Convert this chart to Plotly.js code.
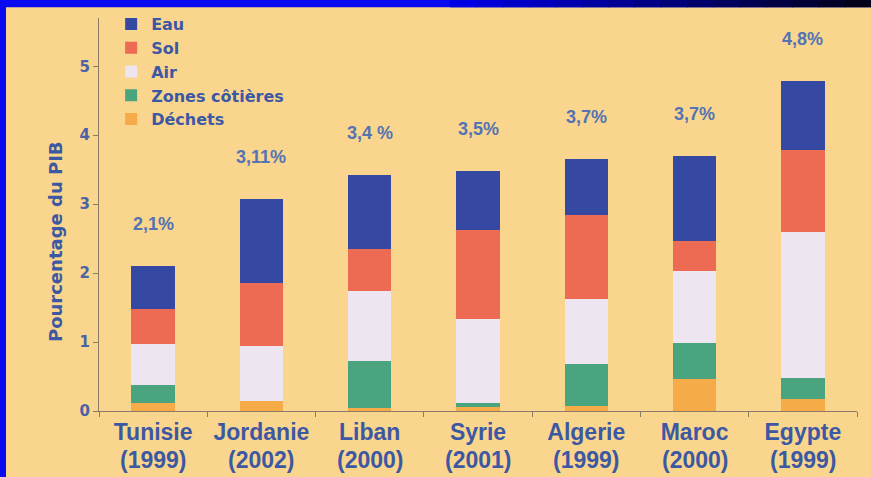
<!DOCTYPE html>
<html>
<head>
<meta charset="utf-8">
<script src="https://cdn.plot.ly/plotly-3.0.1.min.js"></script>
<style>
html,body{margin:0;padding:0;background:#0a0af0;}
#chart{width:871px;height:477px;}
</style>
</head>
<body>
<div id="chart"></div>
<script>
// ---- data ----
const countries = ["Tunisie","Jordanie","Liban","Syrie","Algerie","Maroc","Egypte"];
const years = ["(1999)","(2002)","(2000)","(2001)","(1999)","(2000)","(1999)"];
const dechets = [0.12, 0.15, 0.04, 0.06, 0.07, 0.46, 0.17];
const zonesCotieres = [0.26, 0.00, 0.68, 0.05, 0.61, 0.53, 0.31];
const air = [0.59, 0.79, 1.02, 1.23, 0.95, 1.04, 2.11];
const sol = [0.51, 0.92, 0.61, 1.28, 1.22, 0.43, 1.19];
const eau = [0.62, 1.21, 1.07, 0.86, 0.81, 1.24, 1.01];
const pctLabels = ["2,1%","3,11%","3,4 %","3,5%","3,7%","3,7%","4,8%"];
const yTicks = [0,1,2,3,4,5];

// ---- styles ----
const textBlue = "#3d58a3";
const lightBlue = "#5573b3";
const axisCol = "#8a7b66";
const series = [
  {name:"Déchets", y:dechets, color:"#f5ac48"},
  {name:"Zones côtières", y:zonesCotieres, color:"#4aa47f"},
  {name:"Air", y:air, color:"#ede6f1"},
  {name:"Sol", y:sol, color:"#ec6b52"},
  {name:"Eau", y:eau, color:"#3649a2"}
];

const traces = series.map(s => ({
  type:"bar", x:countries, y:s.y, name:s.name,
  marker:{color:s.color, line:{width:0}},
  width:0.4, hoverinfo:"skip"
}));

const totals = countries.map((c,i) => series.reduce((a,s)=>a+s.y[i],0));

const annotations = [];
countries.forEach((c,i) => {
  annotations.push({
    x:c, y:totals[i], xref:"x", yref:"y", text:pctLabels[i], showarrow:false,
    yanchor:"bottom", yshift:30,
    font:{family:"Liberation Sans, Arial, sans-serif", size:18, color:lightBlue, weight:"bold"}
  });
  annotations.push({
    x:c, y:0, xref:"x", yref:"paper", text:years[i], showarrow:false,
    yanchor:"middle", yshift:-49,
    font:{family:"Liberation Sans, Arial, sans-serif", size:23, color:textBlue, weight:"bold"}
  });
});
annotations.push({
  x:-0.058, xref:"paper", y:0.43, yref:"paper", text:"Pourcentage du PIB",
  showarrow:false, textangle:-90, xanchor:"center", yanchor:"middle",
  font:{family:"DejaVu Sans, sans-serif", size:18, color:textBlue, weight:"bold"}
});

// background panel + darkening top border (decoration)
const L = 99, W = 758, B = 410.7, H = 393;
const px = v => (v - L) / W;
const py = v => (B - v) / H;
const shapes = [{
  type:"rect", xref:"paper", yref:"paper", layer:"below",
  x0:px(6), x1:px(880), y0:-0.2, y1:py(7),
  fillcolor:"#f9d58d", line:{width:0}
}];
const steps = 16, gx0 = 450, gx1 = 871;
for (let i = 0; i < steps; i++) {
  const t = (i + 0.5) / steps;
  const b = Math.round(235 - t * 215);
  shapes.push({
    type:"rect", xref:"paper", yref:"paper", layer:"below",
    x0:px(gx0 + i * (gx1 - gx0) / steps), x1:px(gx0 + (i + 1) * (gx1 - gx0) / steps + 1),
    y0:py(7), y1:py(-2),
    fillcolor:`rgb(0,0,${b})`, line:{width:0}
  });
}

const layout = {
  width:871, height:477,
  margin:{l:99, r:14, t:18, b:66, pad:0, autoexpand:false},
  paper_bgcolor:"#0a0af0",
  plot_bgcolor:"rgba(0,0,0,0)",
  barmode:"stack",
  bargap:0.6,
  showlegend:true,
  legend:{
    x:0.016, y:1 - 7/477, xanchor:"left", yanchor:"top",
    xref:"paper", yref:"container",
    traceorder:"reversed", bgcolor:"rgba(0,0,0,0)",
    font:{family:"DejaVu Sans, sans-serif", size:16, color:textBlue, weight:"bold"},
    itemwidth:30, tracegroupgap:0
  },
  xaxis:{
    type:"category", range:[-0.5, 6.5], fixedrange:true,
    showline:true, linecolor:axisCol, linewidth:1,
    ticks:"outside", tickson:"boundaries", ticklen:5, tickcolor:axisCol,
    showgrid:false, zeroline:false,
    tickfont:{family:"Liberation Sans, Arial, sans-serif", size:23, color:textBlue, weight:"bold"}
  },
  yaxis:{
    range:[0, 5.7], fixedrange:true,
    tickvals:yTicks, ticktext:yTicks.map(String),
    showline:true, linecolor:axisCol, linewidth:1,
    ticks:"outside", ticklen:5, tickcolor:axisCol,
    showgrid:false, zeroline:false,
    tickfont:{family:"DejaVu Sans, sans-serif", size:15, color:"#4b63a6", weight:"bold"}
  },
  shapes:shapes,
  annotations:annotations
};

Plotly.newPlot("chart", traces, layout, {displayModeBar:false, staticPlot:true});
</script>
</body>
</html>
